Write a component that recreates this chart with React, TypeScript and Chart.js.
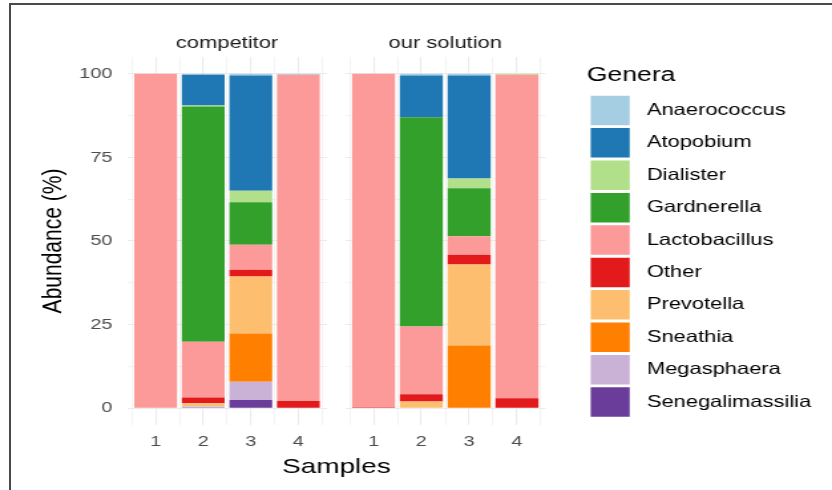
import React, { useEffect, useRef } from 'react';
import { Chart, registerables } from 'chart.js';

Chart.register(...registerables);

// ---------- data ----------
const SAMPLES = [1, 2, 3, 4];
const PANEL_TITLES = ['competitor', 'our solution'];
const X_TITLE = 'Samples';
const Y_TITLE = 'Abundance (%)';
const LEGEND_TITLE = 'Genera';
const Y_TICKS = [0, 12.5, 25, 37.5, 50, 62.5, 75, 87.5, 100];
const X_MINOR = [0.5, 1.5, 2.5, 3.5, 4.5];

// stacking order, bottom -> top (legend shows the reverse)
const GENERA = ['Senegalimassilia', 'Megasphaera', 'Sneathia', 'Prevotella', 'Other', 'Lactobacillus', 'Gardnerella', 'Dialister', 'Atopobium', 'Anaerococcus'];
const COLORS = ['#6A3D9A', '#CAB2D6', '#FF7F00', '#FDBF6F', '#E31A1C', '#FB9A99', '#33A02C', '#B2DF8A', '#1F78B4', '#A6CEE3'];

// competitor (samples 1..4)
const compSenegalimassilia = [0, 0.25, 2.5, 0];
const compMegasphaera = [0, 0.25, 5.4, 0];
const compSneathia = [0, 0, 14.45, 0];
const compPrevotella = [0, 1.0, 17.05, 0];
const compOther = [0, 1.7, 2.0, 2.2];
const compLactobacillus = [100, 16.65, 7.5, 97.5];
const compGardnerella = [0, 70.35, 12.7, 0];
const compDialister = [0, 0.3, 3.45, 0];
const compAtopobium = [0, 9.2, 34.45, 0];
const compAnaerococcus = [0, 0.3, 0.5, 0.3];

// our solution (samples 1..4)
const oursSenegalimassilia = [0, 0, 0, 0];
const oursMegasphaera = [0, 0, 0, 0];
const oursSneathia = [0, 0, 18.75, 0];
const oursPrevotella = [0, 2.0, 24.25, 0];
const oursOther = [0.3, 2.2, 2.9, 3.0];
const oursLactobacillus = [99.7, 20.25, 5.5, 96.7];
const oursGardnerella = [0, 62.55, 14.35, 0];
const oursDialister = [0, 0, 2.9, 0.3];
const oursAtopobium = [0, 12.5, 30.85, 0];
const oursAnaerococcus = [0, 0.5, 0.5, 0];

const COMPETITOR = [compSenegalimassilia, compMegasphaera, compSneathia, compPrevotella, compOther, compLactobacillus, compGardnerella, compDialister, compAtopobium, compAnaerococcus];
const OURS = [oursSenegalimassilia, oursMegasphaera, oursSneathia, oursPrevotella, oursOther, oursLactobacillus, oursGardnerella, oursDialister, oursAtopobium, oursAnaerococcus];

// ---------- layout (display px, canvas bitmap is stretched horizontally) ----------
const W = 626;
const H = 490;
const S = 832 / W;
const FONT = "'Liberation Sans', Arial, Helvetica, sans-serif";
const GRID = '#EBEBEB';
const TICK_COLOR = '#4D4D4D';

const A_LEFT = 127.1 / S;
const A_RIGHT = 326.9 / S;
const B_LEFT = 344.9 / S;
const B_RIGHT = 545.6 / S;
const LEGEND_LEFT = 441.5;
const LEGEND_MAX_W = W - LEGEND_LEFT;

Chart.defaults.font.family = FONT;

function makeDatasets(values: number[][]) {
  return GENERA.map((g, i) => ({
    label: g,
    data: SAMPLES.map((s, j) => ({ x: s, y: values[i][j] })),
    backgroundColor: COLORS[i],
    borderWidth: 0,
    barPercentage: 0.9,
    categoryPercentage: 1.0,
    xAxisID: 'x',
    yAxisID: 'y',
  }));
}

function makeScales(showY: boolean) {
  return {
    x: {
      type: 'linear',
      position: 'bottom',
      stacked: true,
      offset: false,
      min: 0.4,
      max: 4.6,
      afterBuildTicks: (ax: any) => { ax.ticks = SAMPLES.map((v) => ({ value: v })); },
      ticks: { color: TICK_COLOR, font: { size: 15 }, padding: 8, maxRotation: 0, autoSkip: false, callback: (v: any) => String(v) },
      grid: { color: GRID, lineWidth: 1.1, drawTicks: false, offset: false },
      border: { display: false },
      afterFit: (s: any) => { s.height = 65; },
    },
    xg: {
      type: 'linear',
      position: 'bottom',
      offset: false,
      min: 0.4,
      max: 4.6,
      afterBuildTicks: (ax: any) => { ax.ticks = X_MINOR.map((v) => ({ value: v })); },
      ticks: { display: false },
      grid: { color: GRID, lineWidth: 0.6, drawTicks: false, offset: false },
      border: { display: false },
      afterFit: (s: any) => { s.height = 0; },
    },
    y: {
      type: 'linear',
      position: 'left',
      stacked: true,
      min: -5,
      max: 105,
      afterBuildTicks: (ax: any) => { ax.ticks = Y_TICKS.map((v) => ({ value: v })); },
      ticks: {
        display: showY,
        color: TICK_COLOR,
        font: { size: 15 },
        padding: 11,
        callback: (v: any) => (v % 25 === 0 ? String(v) : ''),
      },
      grid: {
        color: GRID,
        lineWidth: (c: any) => (c.tick && c.tick.value % 25 === 0 ? 1.1 : 0.6),
        drawTicks: false,
      },
      border: { display: false },
      title: { display: showY, text: Y_TITLE, font: { size: 21 }, color: '#000', padding: { top: 27.7, bottom: 0 } },
      afterFit: (s: any) => { s.width = showY ? A_LEFT : 0; },
    },
  } as any;
}

function panelTitle(text: string) {
  return {
    display: true,
    text,
    fullSize: false,
    font: { size: 16.5, weight: 'normal' },
    color: '#1A1A1A',
    padding: { top: 33.1, bottom: 4.1 },
  };
}

const xTitlePlugin = {
  id: 'sharedXTitle',
  afterDraw(chart: any) {
    const ctx = chart.ctx;
    ctx.save();
    ctx.font = `21px ${FONT}`;
    ctx.fillStyle = '#000';
    ctx.textAlign = 'center';
    ctx.textBaseline = 'alphabetic';
    ctx.fillText(X_TITLE, (A_LEFT + B_RIGHT) / 2, 472.5);
    ctx.restore();
  },
};

export default function App() {
  const refA = useRef<HTMLCanvasElement>(null);
  const refB = useRef<HTMLCanvasElement>(null);

  useEffect(() => {
    const chartA = new Chart(refA.current as HTMLCanvasElement, {
      type: 'bar',
      data: { datasets: makeDatasets(COMPETITOR) as any },
      options: {
        animation: false,
        responsive: false,
        maintainAspectRatio: false,
        layout: { padding: { left: 0, top: 0, right: W - A_RIGHT, bottom: 0 } },
        plugins: {
          legend: { display: false },
          tooltip: { enabled: false },
          title: panelTitle(PANEL_TITLES[0]) as any,
        },
        scales: makeScales(true),
      },
      plugins: [xTitlePlugin],
    });

    const scalesB = makeScales(false);
    scalesB.yr = {
      type: 'linear',
      position: 'right',
      grid: { display: false },
      ticks: { display: false },
      border: { display: false },
      afterFit: (s: any) => { s.width = LEGEND_LEFT - B_RIGHT; },
    };

    const chartB = new Chart(refB.current as HTMLCanvasElement, {
      type: 'bar',
      data: { datasets: makeDatasets(OURS) as any },
      options: {
        animation: false,
        responsive: false,
        maintainAspectRatio: false,
        layout: { padding: { left: B_LEFT, top: 0, right: 0, bottom: 0 } },
        plugins: {
          tooltip: { enabled: false },
          title: panelTitle(PANEL_TITLES[1]) as any,
          legend: {
            display: true,
            position: 'right',
            align: 'start',
            maxWidth: LEGEND_MAX_W,
            title: {
              display: true,
              text: LEGEND_TITLE,
              position: 'start',
              color: '#000',
              font: { size: 20 },
              padding: { top: 65, bottom: 3.8 },
            },
            labels: {
              boxWidth: 29.4,
              boxHeight: 29.5,
              padding: 2.9,
              color: '#111',
              font: { size: 16.5 },
              // trailing spaces keep the legend box at least as wide as its slot
              generateLabels: () =>
                GENERA.map((g, i) => ({
                  text: ' ' + g + '          ',
                  fillStyle: COLORS[i],
                  strokeStyle: COLORS[i],
                  lineWidth: 0,
                  hidden: false,
                  datasetIndex: i,
                })).reverse(),
            },
          } as any,
        },
        scales: scalesB,
      },
    });

    return () => {
      chartA.destroy();
      chartB.destroy();
    };
  }, []);

  const canvasStyle: React.CSSProperties = { position: 'absolute', left: 0, top: 0, width: '832px', height: '490px' };

  return (
    <div style={{ position: 'fixed', left: 0, top: 0, width: 832, height: 490, background: '#fff', overflow: 'hidden' }}>
      <div style={{ position: 'absolute', left: 9, top: 3, width: 840, height: 500, borderLeft: '2px solid #4A4A4A', borderTop: '2px solid #4A4A4A' }} />
      <canvas ref={refA} width={W} height={H} style={canvasStyle} />
      <canvas ref={refB} width={W} height={H} style={canvasStyle} />
    </div>
  );
}
